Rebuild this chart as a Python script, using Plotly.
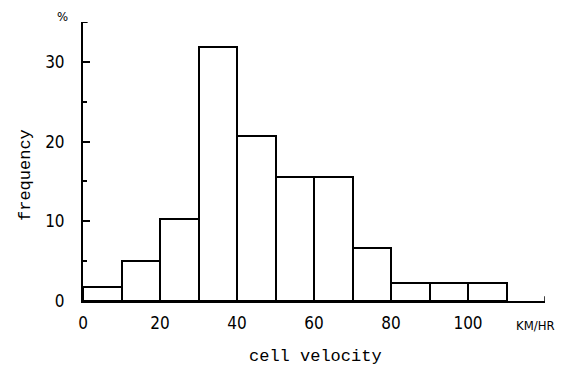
import plotly.graph_objects as go

# Data
bin_start = [0, 10, 20, 30, 40, 50, 60, 70, 80, 90, 100]
bin_width = 10
frequency = [1.7, 5.0, 10.3, 31.9, 20.7, 15.6, 15.6, 6.7, 2.2, 2.2, 2.2]
x_tick_vals = [0, 20, 40, 60, 80, 100]
x_tick_text = ["0", "20", "40", "60", "80", "100"]
y_tick_vals = [0, 10, 20, 30]
y_tick_text = ["0", "10", "20", "30"]

centers = [s + bin_width / 2 for s in bin_start]

tick_font = dict(family="DejaVu Sans Condensed, DejaVu Sans", size=17, color="black")
mono = "Liberation Mono, DejaVu Sans Mono"

fig = go.Figure()
fig.add_trace(go.Bar(
    x=centers, y=frequency, width=[bin_width] * len(centers),
    marker=dict(color="white", line=dict(color="black", width=2)),
    showlegend=False, hoverinfo="skip",
))

fig.update_layout(
    width=567, height=369,
    paper_bgcolor="white", plot_bgcolor="white",
    margin=dict(l=83, r=22, t=22, b=68),
    bargap=0,
    xaxis=dict(
        range=[0, 120], showgrid=False, zeroline=False,
        showline=True, linecolor="black", linewidth=2,
        tickvals=x_tick_vals, ticktext=x_tick_text, ticks="",
        tickfont=tick_font, ticklabelstandoff=6,
    ),
    yaxis=dict(
        range=[0, 35], showgrid=False, zeroline=False,
        showline=True, linecolor="black", linewidth=2,
        tickvals=y_tick_vals, ticktext=y_tick_text,
        ticks="inside", ticklen=7, tickwidth=2, tickcolor="black",
        minor=dict(tickvals=[5, 15, 25], ticks="inside", ticklen=4, tickwidth=1.5, tickcolor="black"),
        tickfont=tick_font, ticklabelstandoff=13,
    ),
    annotations=[
        dict(text="frequency", x=25, y=175, xref="paper", yref="paper",
             showarrow=False, textangle=-90, xanchor="center", yanchor="middle",
             font=dict(family=mono, size=17, color="black")),
        dict(text="cell velocity", x=315, y=357, xref="paper", yref="paper",
             showarrow=False, xanchor="center", yanchor="middle",
             font=dict(family=mono, size=17, color="black")),
        dict(text="%", x=0, y=35, xref="x", yref="y", xanchor="right", yanchor="bottom",
             xshift=-13, yshift=-4, showarrow=False,
             font=dict(family="DejaVu Sans Condensed, DejaVu Sans", size=13, color="black")),
        dict(text="KM/HR", x=120, y=0, xref="x", yref="y", xanchor="center", yanchor="top",
             xshift=-10, yshift=-15, showarrow=False,
             font=dict(family="DejaVu Sans Condensed, DejaVu Sans", size=13, color="black")),
    ],
    shapes=[
        dict(type="line", xref="x", yref="y", x0=120, x1=120, y0=0, y1=0.6,
             line=dict(color="black", width=1.5)),
        dict(type="line", xref="x", yref="y", x0=0, x1=1.2, y0=35, y1=35,
             line=dict(color="black", width=2)),
    ],
)

# Convert pixel positions of the free-standing titles into paper coordinates
W, H = 567, 369
ml, mr, mt, mb = 83, 22, 22, 68
pw, ph = W - ml - mr, H - mt - mb
for ann in fig.layout.annotations[:2]:
    ann.x = (ann.x - ml) / pw
    ann.y = 1 - (ann.y - mt) / ph

fig.write_html("out.html")
